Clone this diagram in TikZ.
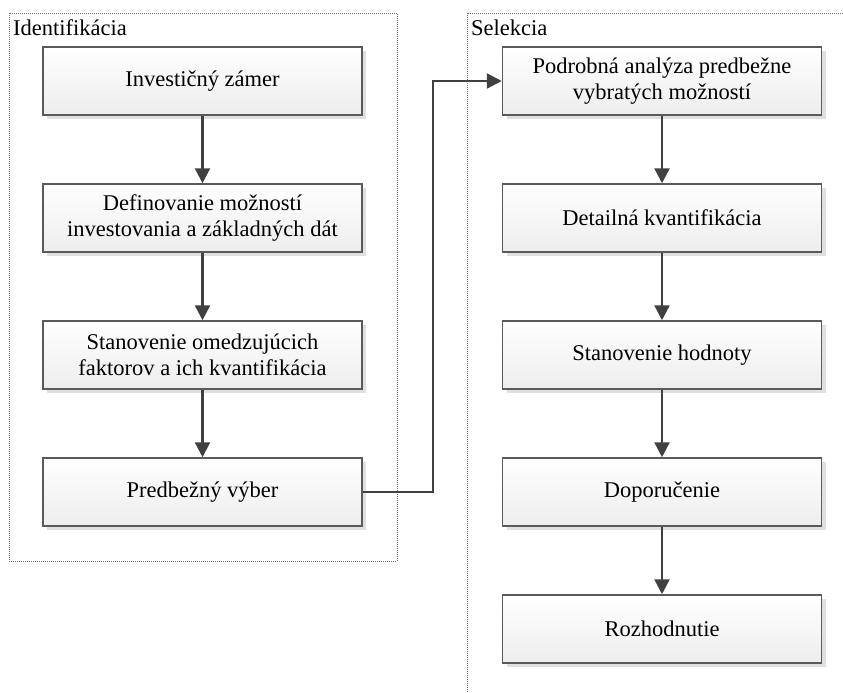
\documentclass[tikz,border=0pt]{standalone}
\usepackage{fontspec}
\setmainfont{Liberation Serif}
\usetikzlibrary{arrows.meta,shadows}
\definecolor{linegray}{HTML}{404040}
\definecolor{boxedge}{HTML}{5A5A5A}
\tikzset{
  stepbox/.style={draw=boxedge, line width=1.5pt, top color=white, bottom color=black!7,
    minimum width=319pt, minimum height=68pt, align=center, inner sep=0pt,
    font=\fontsize{22.5}{26}\selectfont,
    drop shadow={shadow xshift=4pt, shadow yshift=-4pt, fill=black!12, opacity=1}},
  flow/.style={draw=linegray, line width=2.4pt, -{Triangle[length=15pt,width=15pt]}},
  lane/.style={draw=black!55, line width=0.9pt, dash pattern=on 1pt off 1pt},
  lanetitle/.style={anchor=base west, inner sep=0pt, font=\fontsize{22.5}{26}\selectfont}
}

\begin{document}
\begin{tikzpicture}[x=1pt,y=-1pt]
\useasboundingbox (0,0) rectangle (843,693);
% lanes
\draw[lane] (9,13) rectangle (397,561);
\draw[lane] (843,13) -- (467,13) -- (467,693);
\node[lanetitle] (idtitle) at (13,36) {Identifikácia};
\node[lanetitle] (seltitle) at (471,36) {Selekcia};
% identification
\node[stepbox] (zamer) at (202.5,81) {Investičný zámer};
\node[stepbox] (moznosti) at (202.5,218) {Definovanie možností\\investovania a základných dát};
\node[stepbox] (faktory) at (202.5,355) {Stanovenie omedzujúcich\\faktorov a ich kvantifikácia};
\node[stepbox] (vyber) at (202.5,492) {Predbežný výber};
% selection
\node[stepbox] (analyza) at (662,81) {Podrobná analýza predbežne\\vybratých možností};
\node[stepbox] (kvant) at (662,218) {Detailná kvantifikácia};
\node[stepbox] (hodnota) at (662,355) {Stanovenie hodnoty};
\node[stepbox] (odpor) at (662,492) {Doporučenie};
\node[stepbox] (rozhod) at (662,629) {Rozhodnutie};
% connectors
\draw[flow] (zamer) -- (moznosti);
\draw[flow] (moznosti) -- (faktory);
\draw[flow] (faktory) -- (vyber);
\draw[flow] (vyber.east) -- ++(70,0) |- (analyza.west);
\draw[flow] (analyza) -- (kvant);
\draw[flow] (kvant) -- (hodnota);
\draw[flow] (hodnota) -- (odpor);
\draw[flow] (odpor) -- (rozhod);
\end{tikzpicture}
\end{document}
